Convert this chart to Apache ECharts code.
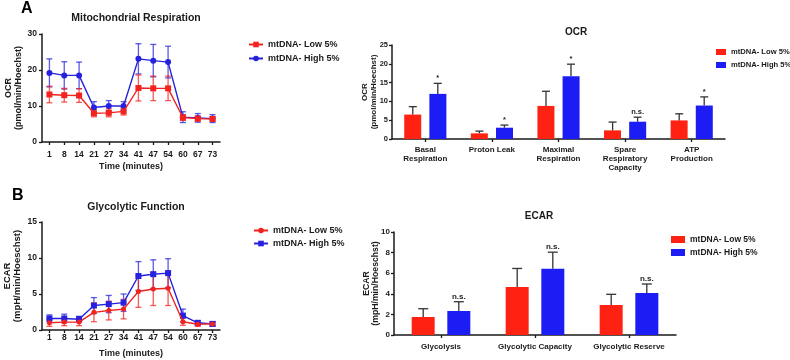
<!DOCTYPE html>
<html>
<head>
<meta charset="utf-8">
<script src="https://cdn.jsdelivr.net/npm/echarts@6/dist/echarts.min.js"></script>
<style>
  html, body { margin: 0; padding: 0; background: #fff; }
  #wrap { position: relative; width: 790px; height: 360px; overflow: hidden; }
  .panel { position: absolute; }
</style>
</head>
<body>
<div id="wrap">
  <div id="a1" class="panel" style="left:0;top:0;width:360px;height:180px"></div>
  <div id="b1" class="panel" style="left:0;top:180px;width:360px;height:180px"></div>
  <div id="a2" class="panel" style="left:340px;top:0;width:470px;height:180px"></div>
  <div id="b2" class="panel" style="left:340px;top:180px;width:470px;height:180px"></div>
</div>
<script>
// data
const timePoints = ['1', '8', '14', '21', '27', '34', '41', '47', '54', '60', '67', '73']
const ocrLow = [13.2, 13.0, 12.9, 8.0, 8.1, 8.5, 15.0, 14.9, 14.9, 6.8, 6.5, 6.4]
const ocrLowErr = [2.3, 1.9, 1.9, 1.0, 1.1, 1.0, 3.6, 3.4, 3.4, 0.8, 0.7, 0.6]
const ocrHigh = [19.2, 18.5, 18.5, 9.6, 10.0, 10.0, 23.1, 22.6, 22.2, 6.9, 6.7, 6.5]
const ocrHighErr = [3.9, 3.8, 3.7, 1.6, 1.5, 1.2, 4.2, 4.5, 4.4, 1.5, 1.2, 1.1]
const ecarLow = [1.0, 1.1, 1.1, 2.45, 2.7, 2.9, 5.35, 5.7, 5.8, 1.15, 0.8, 0.85]
const ecarLowErr = [0.5, 0.5, 0.5, 1.3, 1.3, 1.35, 2.2, 2.3, 2.4, 0.5, 0.3, 0.25]
const ecarHigh = [1.6, 1.6, 1.5, 3.4, 3.6, 3.8, 7.5, 7.75, 7.9, 2.0, 1.0, 0.85]
const ecarHighErr = [0.5, 0.6, 0.4, 1.1, 1.2, 1.2, 2.0, 2.0, 2.0, 0.9, 0.3, 0.3]

const ocrParams = ['Basal\nRespiration', 'Proton Leak', 'Maximal\nRespiration', 'Spare\nRespiratory\nCapacity', 'ATP\nProduction']
const ocrParamLow = [6.5, 1.5, 8.8, 2.3, 4.95]
const ocrParamLowErr = [2.1, 0.6, 3.9, 2.2, 1.75]
const ocrParamHigh = [12.0, 3.0, 16.7, 4.6, 8.9]
const ocrParamHighErr = [2.8, 0.7, 3.2, 1.2, 2.3]
const ocrSig = ['*', '*', '*', 'n.s.', '*']

const ecarParams = ['Glycolysis', 'Glycolytic Capacity', 'Glycolytic Reserve']
const ecarParamLow = [1.75, 4.66, 2.91]
const ecarParamLowErr = [0.8, 1.8, 1.04]
const ecarParamHigh = [2.33, 6.44, 4.08]
const ecarParamHighErr = [0.9, 1.6, 0.87]
const ecarSig = ['n.s.', 'n.s.', 'n.s.']

const LOW = 'mtDNA- Low 5%'
const HIGH = 'mtDNA- High 5%'
const RED = '#f2231f'
const BLUE = '#2621dc'
const BAR_RED = '#ff2212'
const BAR_BLUE = '#1c1cf5'
const FONT = 'Liberation Sans'
const INK = '#1a1a1a'

function axisLine() {
  return { show: true, lineStyle: { color: INK, width: 1.5 } }
}

// symmetric error bars for the time course
function lineErr(means, errs, color) {
  return {
    type: 'custom',
    name: 'err',
    z: 1,
    silent: true,
    data: means.map((m, i) => [i, m - errs[i], m + errs[i]]),
    encode: { x: 0, y: [1, 2] },
    renderItem: function (params, api) {
      const lo = api.coord([api.value(0), api.value(1)])
      const hi = api.coord([api.value(0), api.value(2)])
      const cap = 3
      const style = { stroke: color, lineWidth: 1.3, opacity: 0.75 }
      return {
        type: 'group',
        children: [
          { type: 'line', shape: { x1: lo[0], y1: lo[1], x2: hi[0], y2: hi[1] }, style: style },
          { type: 'line', shape: { x1: lo[0] - cap, y1: lo[1], x2: lo[0] + cap, y2: lo[1] }, style: style },
          { type: 'line', shape: { x1: hi[0] - cap, y1: hi[1], x2: hi[0] + cap, y2: hi[1] }, style: style }
        ]
      }
    }
  }
}

// upper error bar on a bar, shifted to the bar's side, with optional significance text
function barErr(means, errs, shift, cap, sig, sigSize) {
  return {
    type: 'custom',
    name: 'err',
    z: 3,
    silent: true,
    data: means.map((m, i) => [i, m, m + errs[i]]),
    encode: { x: 0, y: [1, 2] },
    renderItem: function (params, api) {
      const i = api.value(0)
      const base = api.coord([i, api.value(1)])
      const top = api.coord([i, api.value(2)])
      const x = base[0] + shift
      const style = { stroke: '#333', lineWidth: 1.3 }
      const children = [
        { type: 'line', shape: { x1: x, y1: base[1], x2: x, y2: top[1] }, style: style },
        { type: 'line', shape: { x1: x - cap, y1: top[1], x2: x + cap, y2: top[1] }, style: style }
      ]
      if (sig) {
        children.push({
          type: 'text',
          x: x,
          y: top[1] - 1,
          style: {
            text: sig[i],
            fill: INK,
            font: 'bold ' + sigSize + 'px "' + FONT + '"',
            align: 'center',
            verticalAlign: 'bottom'
          }
        })
      }
      return { type: 'group', children: children }
    }
  }
}

function timeChart(el, cfg) {
  const chart = echarts.init(document.getElementById(el))
  const option = {
    animation: false,
    textStyle: { fontFamily: FONT },
    title: {
      text: cfg.title,
      left: 131,
      top: cfg.titleTop,
      textAlign: 'center',
      textStyle: { fontSize: 10.5, fontWeight: 'bold', color: INK, fontFamily: FONT }
    },
    graphic: [{
      type: 'text',
      left: cfg.letterX,
      top: cfg.letterY,
      style: { text: cfg.letter, font: 'bold 16px "' + FONT + '"', fill: '#000' }
    }],
    legend: {
      orient: 'vertical',
      left: cfg.legendX,
      top: cfg.legendY,
      itemWidth: 14,
      itemHeight: 7,
      itemGap: cfg.legendGap,
      data: [LOW, HIGH],
      textStyle: { fontSize: 9, fontWeight: 'bold', color: INK, fontFamily: FONT }
    },
    grid: { left: 42, top: cfg.gridTop, width: 178, height: 108, outerBoundsMode: 'none' },
    xAxis: {
      type: 'category',
      data: timePoints,
      name: 'Time (minutes)',
      nameLocation: 'middle',
      nameGap: cfg.nameGapX,
      nameMoveOverlap: false,
      nameTextStyle: { fontSize: 9, fontWeight: 'bold', color: INK, fontFamily: FONT },
      axisLine: axisLine(),
      axisTick: { show: true, alignWithLabel: true, length: 3, lineStyle: { color: INK, width: 1.3 } },
      axisLabel: { fontSize: 8.5, fontWeight: 'bold', color: INK, margin: cfg.labelMarginX, interval: 0 }
    },
    yAxis: {
      type: 'value',
      min: 0,
      max: cfg.yMax,
      interval: cfg.yStep,
      name: cfg.yName,
      nameLocation: 'middle',
      nameGap: cfg.nameGapY,
      nameMoveOverlap: false,
      nameTextStyle: { fontSize: cfg.yNameSize, lineHeight: cfg.yNameLine, fontWeight: 'bold', color: INK, fontFamily: FONT, align: 'center' },
      splitLine: { show: false },
      axisLine: axisLine(),
      axisTick: { show: true, length: 3, lineStyle: { color: INK, width: 1.3 } },
      axisLabel: { fontSize: 8.5, fontWeight: 'bold', color: INK, margin: 5 }
    },
    series: [
      {
        name: LOW,
        type: 'line',
        data: cfg.low,
        symbol: cfg.lowSymbol,
        symbolSize: cfg.lowSize,
        z: 4,
        itemStyle: { color: RED },
        lineStyle: { color: RED, width: 1.4 }
      },
      {
        name: HIGH,
        type: 'line',
        data: cfg.high,
        symbol: cfg.highSymbol,
        symbolSize: cfg.highSize,
        z: 3,
        itemStyle: { color: BLUE },
        lineStyle: { color: BLUE, width: 1.4 }
      },
      lineErr(cfg.high, cfg.highErr, BLUE),
      lineErr(cfg.low, cfg.lowErr, RED)
    ]
  }
  chart.setOption(option, true)
}

function barChart(el, cfg) {
  const chart = echarts.init(document.getElementById(el))
  const option = {
    animation: false,
    textStyle: { fontFamily: FONT },
    title: {
      text: cfg.title,
      left: cfg.titleX,
      top: cfg.titleTop,
      textAlign: 'center',
      textStyle: { fontSize: 10, fontWeight: 'bold', color: INK, fontFamily: FONT }
    },
    legend: {
      orient: 'vertical',
      left: cfg.legendX,
      top: cfg.legendY,
      icon: 'rect',
      itemWidth: cfg.iconW,
      itemHeight: cfg.iconH,
      itemGap: cfg.legendGap,
      data: [LOW, HIGH],
      textStyle: { fontSize: cfg.legendSize, fontWeight: 'bold', color: INK, fontFamily: FONT }
    },
    grid: { left: cfg.gridLeft, top: cfg.gridTop, width: cfg.gridWidth, height: cfg.gridHeight, outerBoundsMode: 'none' },
    xAxis: {
      type: 'category',
      data: cfg.categories,
      axisLine: axisLine(),
      axisTick: { show: true, alignWithLabel: true, length: 3, lineStyle: { color: INK, width: 1.3 } },
      axisLabel: { fontSize: 8, lineHeight: 9, fontWeight: 'bold', color: INK, margin: cfg.labelMarginX, interval: 0 }
    },
    yAxis: {
      type: 'value',
      min: 0,
      max: cfg.yMax,
      interval: cfg.yStep,
      name: cfg.yName,
      nameLocation: 'middle',
      nameGap: cfg.nameGapY,
      nameMoveOverlap: false,
      nameTextStyle: { fontSize: cfg.yNameSize, lineHeight: cfg.yNameLine, fontWeight: 'bold', color: INK, fontFamily: FONT, align: 'center' },
      splitLine: { show: false },
      axisLine: axisLine(),
      axisTick: { show: true, length: 3, lineStyle: { color: INK, width: 1.3 } },
      axisLabel: { fontSize: cfg.tickSize, fontWeight: 'bold', color: INK, margin: 4 }
    },
    series: [
      { name: LOW, type: 'bar', data: cfg.low, barWidth: cfg.barWidth, barGap: cfg.barGap, itemStyle: { color: BAR_RED }, z: 2 },
      { name: HIGH, type: 'bar', data: cfg.high, barWidth: cfg.barWidth, barGap: cfg.barGap, itemStyle: { color: BAR_BLUE }, z: 2 },
      barErr(cfg.low, cfg.lowErr, -cfg.shift, cfg.cap, null, 0),
      barErr(cfg.high, cfg.highErr, cfg.shift, cfg.cap, cfg.sig, cfg.sigSize)
    ]
  }
  chart.setOption(option, true)
}

timeChart('a1', {
  title: 'Mitochondrial Respiration', titleTop: 8,
  letter: 'A', letterX: 21, letterY: 1,
  legendX: 243, legendY: 35, legendGap: 5,
  gridTop: 34, yMax: 30, yStep: 10,
  yName: 'OCR\n(pmol/min/Hoechst)', yNameSize: 9, yNameLine: 10, nameGapY: 18,
  nameGapX: 20, labelMarginX: 8,
  low: ocrLow, lowErr: ocrLowErr, high: ocrHigh, highErr: ocrHighErr,
  lowSymbol: 'rect', lowSize: 6, highSymbol: 'circle', highSize: 6
})

timeChart('b1', {
  title: 'Glycolytic Function', titleTop: 17,
  letter: 'B', letterX: 12, letterY: 8,
  legendX: 248, legendY: 41, legendGap: 4,
  gridTop: 42, yMax: 15, yStep: 5,
  yName: 'ECAR\n(mpH/min/Hoeschst)', yNameSize: 9.5, yNameLine: 9.5, nameGapY: 20,
  nameGapX: 19.5, labelMarginX: 3,
  low: ecarLow, lowErr: ecarLowErr, high: ecarHigh, highErr: ecarHighErr,
  lowSymbol: 'circle', lowSize: 5, highSymbol: 'rect', highSize: 6
})

barChart('a2', {
  title: 'OCR', titleX: 231, titleTop: 22,
  legendX: 371, legendY: 43, legendGap: 5, iconW: 10, iconH: 6, legendSize: 7.6,
  gridLeft: 52, gridTop: 45, gridWidth: 333, gridHeight: 94,
  categories: ocrParams, yMax: 25, yStep: 5, tickSize: 7.5,
  yName: 'OCR\n(pmol/min/Hoechst)', yNameSize: 8, yNameLine: 9, nameGapY: 13.5,
  labelMarginX: 6,
  low: ocrParamLow, lowErr: ocrParamLowErr, high: ocrParamHigh, highErr: ocrParamHighErr,
  sig: ocrSig, sigSize: 7.5,
  barWidth: 17, barGap: '48%', shift: 12.5, cap: 4
})

barChart('b2', {
  title: 'ECAR', titleX: 194, titleTop: 26,
  legendX: 326, legendY: 50, legendGap: 4, iconW: 14, iconH: 7, legendSize: 8.5,
  gridLeft: 54, gridTop: 52, gridWidth: 282, gridHeight: 103,
  categories: ecarParams, yMax: 10, yStep: 2, tickSize: 8,
  yName: 'ECAR\n(mpH/min/Hoeschst)', yNameSize: 8.7, yNameLine: 9.3, nameGapY: 13.3,
  labelMarginX: 7,
  low: ecarParamLow, lowErr: ecarParamLowErr, high: ecarParamHigh, highErr: ecarParamHighErr,
  sig: ecarSig, sigSize: 8,
  barWidth: 23, barGap: '55%', shift: 17.8, cap: 5
})
</script>
</body>
</html>
